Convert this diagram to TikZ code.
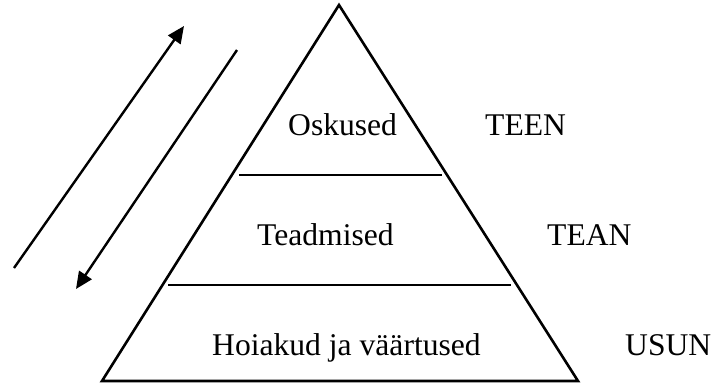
\documentclass[tikz,border=0pt]{standalone}
\usepackage{fontspec}
\setmainfont{Liberation Serif}
\usetikzlibrary{arrows.meta}
\tikzset{
  edge/.style={line width=2.6pt, line join=miter},
  divider/.style={line width=1.3pt},
  flow/.style={line width=2.4pt, -{Triangle[length=17pt,width=15pt]}},
  lbl/.style={anchor=base west, inner sep=0pt, font=\fontsize{31.6}{38}\selectfont},
}
\begin{document}
\begin{tikzpicture}[x=1pt,y=-1pt]
\useasboundingbox (0,0) rectangle (713,383);
% triangle corners
\coordinate (apex) at (339,5);
\coordinate (bl) at (102,381);
\coordinate (br) at (578,381);
\draw[edge] (bl) -- (apex) -- (br) -- cycle;
% dividers
\coordinate (d1l) at (239,175);
\coordinate (d1r) at (442,175);
\coordinate (d2l) at (168,285);
\coordinate (d2r) at (511,285);
\draw[divider] (d1l) -- (d1r);
\draw[divider] (d2l) -- (d2r);
% arrows
\coordinate (a1s) at (14,268);
\coordinate (a1e) at (184,26);
\coordinate (a2s) at (237,50);
\coordinate (a2e) at (76,289);
\draw[flow] (a1s) -- (a1e);
\draw[flow] (a2s) -- (a2e);
% labels
\node[lbl] (osk) at (288,135) {Oskused};
\node[lbl] (teen) at (485,135) {TEEN};
\node[lbl] (tea) at (257,245) {Teadmised};
\node[lbl] (tean) at (547,245) {TEAN};
\node[lbl] (hoi) at (212,355) {Hoiakud ja väärtused};
\node[lbl] (usun) at (625,355) {USUN};
\end{tikzpicture}
\end{document}
